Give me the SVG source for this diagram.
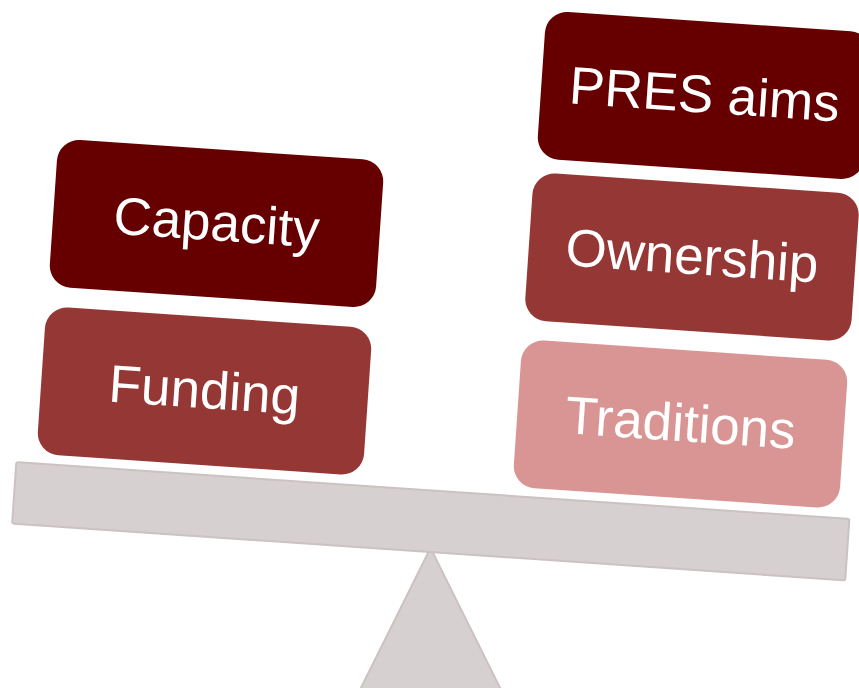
<svg xmlns="http://www.w3.org/2000/svg" width="859" height="688" viewBox="0 0 859 688">
  <style>
    .box { stroke: none; }
    .dark { fill: #660000; }
    .mid { fill: #953735; }
    .light { fill: #d99594; }
    .lbl { font-family: "Liberation Sans", Arial, sans-serif; font-size: 53px; fill: #ffffff; text-anchor: middle; }
    .stand { fill: #d6d0d0; stroke: #cbc2c2; stroke-width: 2; stroke-linejoin: round; }
  </style>
  <rect width="859" height="688" fill="#ffffff"/>
  <g id="fulcrum">
    <polygon class="stand" points="430.5,548 344,722 517,722"/>
  </g>
  <g id="beam">
    <rect class="stand" x="-417.5" y="-30.75" width="835" height="61.5" rx="2" transform="translate(430.75,521.25) rotate(3.9)"/>
  </g>
  <g id="node-capacity" transform="translate(216.5,223.5) rotate(3.9)">
    <rect class="box dark" x="-163.5" y="-74" width="327" height="148" rx="22"/>
    <text class="lbl" x="0" y="17">Capacity</text>
  </g>
  <g id="node-funding" transform="translate(204.5,391) rotate(3.9)">
    <rect class="box mid" x="-163.5" y="-74" width="327" height="148" rx="22"/>
    <text class="lbl" x="0" y="17">Funding</text>
  </g>
  <g id="node-pres-aims" transform="translate(704.5,95.5) rotate(3.9)">
    <rect class="box dark" x="-163.5" y="-74" width="327" height="148" rx="22"/>
    <text class="lbl" x="0" y="17">PRES aims</text>
  </g>
  <g id="node-ownership" transform="translate(692,257) rotate(3.9)">
    <rect class="box mid" x="-163.5" y="-74" width="327" height="148" rx="22"/>
    <text class="lbl" x="0" y="17">Ownership</text>
  </g>
  <g id="node-traditions" transform="translate(680.5,424) rotate(3.9)">
    <rect class="box light" x="-163.5" y="-74" width="327" height="148" rx="22"/>
    <text class="lbl" x="0" y="17">Traditions</text>
  </g>
  <g id="connectors"/>
</svg>
